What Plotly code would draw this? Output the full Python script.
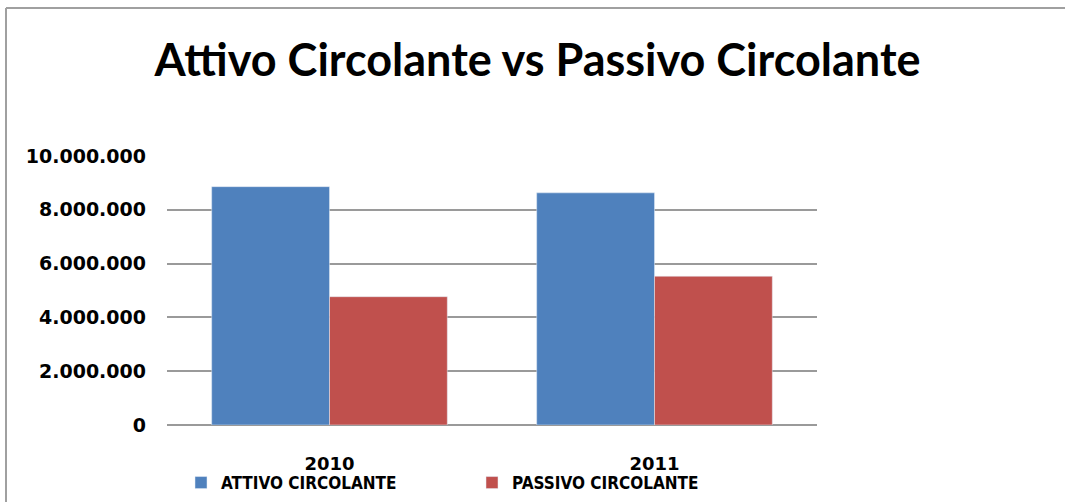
import plotly.graph_objects as go

categories = ["2010", "2011"]
attivo = [8860000, 8630000]
passivo = [4770000, 5530000]
series_names = ["ATTIVO CIRCOLANTE", "PASSIVO CIRCOLANTE"]
title_text = "Attivo Circolante vs Passivo Circolante"
y_ticks = [0, 2000000, 4000000, 6000000, 8000000, 10000000]

fig = go.Figure()
fig.add_trace(go.Bar(x=categories, y=attivo, name=series_names[0], marker_color="#4F81BD"))
fig.add_trace(go.Bar(x=categories, y=passivo, name=series_names[1], marker_color="#C0504D"))

L, R, T, B = 167, 248, 156, 77
W, H = 1065, 502
pw, ph = W - L - R, H - T - B

def px_x(p):
    return (p - L) / pw

def px_y(p):
    return (H - B - p) / ph

fig.update_layout(
    width=W, height=H,
    margin=dict(l=L, r=R, t=T, b=B, pad=0, autoexpand=False),
    paper_bgcolor="white", plot_bgcolor="white",
    separators=",.",
    barmode="group", bargap=0.275, bargroupgap=0,
    title=dict(text=title_text, x=537.5 / W, xanchor="center", y=1 - 60 / H, yanchor="middle",
               font=dict(family="Lato", size=45, color="black", weight="bold")),
    xaxis=dict(showgrid=False, showline=False, zeroline=False, ticks="",
               tickfont=dict(family="DejaVu Sans", size=18, color="black", weight="bold"),
               ticklabelstandoff=26, automargin=False),
    yaxis=dict(range=[0, 10000000], tickvals=y_ticks, tickformat=",d",
               showgrid=True, gridcolor="#9a9a9a", gridwidth=2,
               zeroline=True, zerolinecolor="#9a9a9a", zerolinewidth=2,
               showline=False, ticks="", ticklabelstandoff=20, automargin=False,
               tickfont=dict(family="DejaVu Sans", size=19, color="black", weight="bold")),
    legend=dict(orientation="h", x=px_x(181), xanchor="left", y=px_y(483), yanchor="middle",
                entrywidth=246, entrywidthmode="pixels", itemwidth=30,
                font=dict(family="DejaVu Sans Condensed", size=17, color="black", weight="bold"),
                bgcolor="rgba(0,0,0,0)"),
    shapes=[
        dict(type="line", xref="paper", yref="paper",
             x0=px_x(6), x1=px_x(1066), y0=px_y(8), y1=px_y(8),
             line=dict(color="#a0a0a0", width=2), layer="below"),
        dict(type="line", xref="paper", yref="paper",
             x0=px_x(6), x1=px_x(6), y0=px_y(8), y1=px_y(503),
             line=dict(color="#a0a0a0", width=2), layer="below"),
    ],
)

fig.write_html("out.html")
